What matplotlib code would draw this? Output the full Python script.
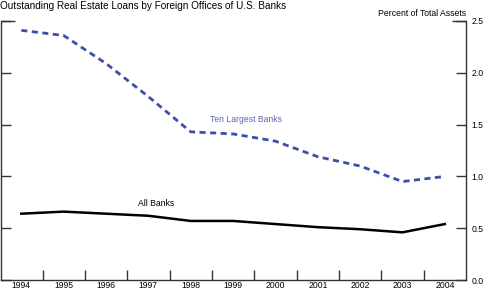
import matplotlib
matplotlib.use("Agg")
import matplotlib.pyplot as plt

years = [1994, 1995, 1996, 1997, 1998, 1999, 2000, 2001, 2002, 2003, 2004]
ten_largest = [2.41, 2.36, 2.09, 1.77, 1.43, 1.41, 1.34, 1.19, 1.10, 0.95, 1.00]
all_banks = [0.64, 0.66, 0.64, 0.62, 0.57, 0.57, 0.54, 0.51, 0.49, 0.46, 0.54]
y_ticks = [0.0, 0.5, 1.0, 1.5, 2.0, 2.5]
y_tick_labels = ["0.0", "0.5", "1.0", "1.5", "2.0", "2.5"]

plt.rcParams['font.family'] = ['Liberation Sans', 'DejaVu Sans']

fig = plt.figure(figsize=(4.83, 2.89), dpi=100)
ax = fig.add_axes([1/483, 1 - 280/289, 465/483, 259/289])

blue = "#3d4fa6"
ax.plot(years, ten_largest, color=blue, lw=2.0, linestyle=(0, (2.2, 1.6)), dash_capstyle='butt')
ax.plot(years, all_banks, color="black", lw=1.8)

ax.set_xlim(1993.52, 2004.5)
ax.set_ylim(0, 2.5)

spine_color = "#333333"
for s in ["left", "right", "bottom"]:
    ax.spines[s].set_color(spine_color)
    ax.spines[s].set_linewidth(1.0)
ax.spines["top"].set_visible(False)

# x axis: year labels without ticks, minor ticks between years pointing inward
ax.set_xticks(years)
ax.set_xticklabels([str(y) for y in years], fontsize=6.2)
ax.tick_params(axis='x', which='major', length=0, pad=1.0)
ax.set_xticks([y + 0.5 for y in years[:-1]], minor=True)
ax.tick_params(axis='x', which='minor', direction='in', length=7, width=1.0, color=spine_color)

# y axis: ticks on both sides inward, labels on right
ax.set_yticks(y_ticks)
ax.set_yticklabels(y_tick_labels, fontsize=6.2)
ax.yaxis.set_ticks_position('both')
ax.tick_params(axis='y', which='major', direction='in', length=7, width=1.0, color=spine_color,
               left=True, right=True, labelleft=False, labelright=True, pad=4)
# longer ticks at top (2.5)
ax.plot([1993.52, 1993.52 + 14/42.4], [2.5, 2.5], color=spine_color, lw=1.0, clip_on=False, solid_capstyle='butt')
ax.plot([2004.5 - 14/42.4, 2004.5], [2.5, 2.5], color=spine_color, lw=1.0, clip_on=False, solid_capstyle='butt')

fig.text(0.5/483, 1 - 6/289, "Outstanding Real Estate Loans by Foreign Offices of U.S. Banks",
         fontsize=7.2, ha='left', va='center')
fig.text(466/483, 1 - 14/289, "Percent of Total Assets", fontsize=6.2, ha='right', va='center')

ax.text(1998.45, 1.55, "Ten Largest Banks", color="#5a66b8", fontsize=6.2, ha='left', va='center')
ax.text(1996.75, 0.74, "All Banks", color="black", fontsize=6.2, ha='left', va='center')

fig.savefig("out.png", dpi=100)
